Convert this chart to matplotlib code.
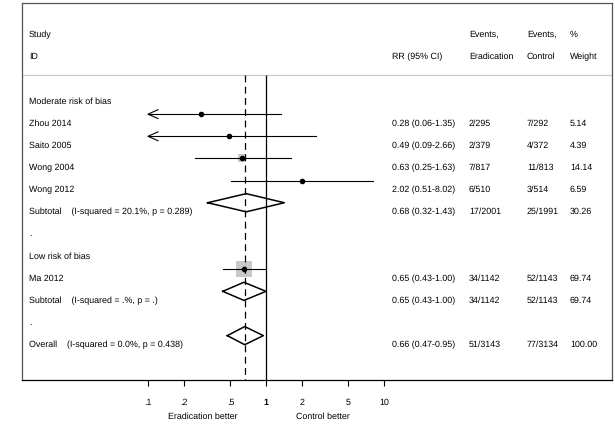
import numpy as np
import matplotlib
matplotlib.use("Agg")
import matplotlib.pyplot as plt
from matplotlib.ticker import FixedLocator, NullLocator

plt.rcParams['font.family'] = ['Liberation Sans', 'DejaVu Sans']
plt.rcParams['text.hinting'] = 'no_hinting'

# study level data
studies = ["Zhou 2014", "Saito 2005", "Wong 2004", "Wong 2012", "Ma 2012"]
study_rows = [1, 2, 3, 4, 8]
rr = [0.28, 0.49, 0.63, 2.02, 0.65]
ci_lo = [0.06, 0.09, 0.25, 0.51, 0.43]
ci_hi = [1.35, 2.66, 1.63, 8.02, 1.00]
ev_erad = ["2/295", "2/379", "7/817", "6/510", "34/1142"]
ev_ctrl = ["7/292", "4/372", "11/813", "3/514", "52/1143"]
weight = [5.14, 4.39, 14.14, 6.59, 69.74]

# pooled estimates
pool_labels = ["Subtotal    (I-squared = 20.1%, p = 0.289)",
               "Subtotal    (I-squared = .%, p = .)",
               "Overall    (I-squared = 0.0%, p = 0.438)"]
pool_rows = [5, 9, 11]
pool_rr = [0.68, 0.65, 0.66]
pool_lo = [0.32, 0.43, 0.47]
pool_hi = [1.43, 1.00, 0.95]
pool_erad = ["17/2001", "34/1142", "51/3143"]
pool_ctrl = ["25/1991", "52/1143", "77/3134"]
pool_weight = [30.26, 69.74, 100.00]

group_labels = ["Moderate risk of bias", ".", "Low risk of bias", "."]
group_rows = [0, 6, 7, 10]

tick_vals = [0.1, 0.2, 0.5, 1, 2, 5, 10]
tick_labels = [".1", ".2", ".5", "1", "2", "5", "10"]

W, H = 615, 425
fig = plt.figure(figsize=(W / 100, H / 100), dpi=100)
ax = fig.add_axes([22 / W, 1 - 380 / H, 590 / W, 376.7 / H])

ax.set_xscale('log')
ax.set_xlim(10 ** -2.0678, 10 ** 2.9322)
ax.set_ylim(12.61, -4.397)

fs = 6.4
mark_off = -0.393   # marks sit a bit above the text row
txt_off = 0.13      # baseline below row centre
clip_lo = 0.1
col_x = [0.0119, 0.627, 0.7576, 0.856, 0.9288]
tr = ax.get_yaxis_transform()

# header
ax.text(col_x[0], -3 + txt_off, "Study", transform=tr, fontsize=fs, va='baseline')
ax.text(col_x[0], -2 + txt_off, "ID", transform=tr, fontsize=fs, va='baseline')
ax.text(col_x[1], -2 + txt_off, "RR (95% CI)", transform=tr, fontsize=fs, va='baseline')
ax.text(col_x[2], -3 + txt_off, "Events,", transform=tr, fontsize=fs, va='baseline')
ax.text(col_x[2], -2 + txt_off, "Eradication", transform=tr, fontsize=fs, va='baseline')
ax.text(col_x[3], -3 + txt_off, "Events,", transform=tr, fontsize=fs, va='baseline')
ax.text(col_x[3], -2 + txt_off, "Control", transform=tr, fontsize=fs, va='baseline')
ax.text(col_x[4], -3 + txt_off, "%", transform=tr, fontsize=fs, va='baseline')
ax.text(col_x[4], -2 + txt_off, "Weight", transform=tr, fontsize=fs, va='baseline')
ax.axhline(-1.15, color='#c8c8c8', lw=0.8)

for lab, r in zip(group_labels, group_rows):
    ax.text(col_x[0], r + txt_off, lab, transform=tr, fontsize=fs, va='baseline')

# reference lines
ax.vlines(1, -1.15, 12.61, color='black', lw=0.9, zorder=3)
ax.vlines(pool_rr[-1], -1.15, 12.61, color='black', lw=0.9,
          linestyles=(0, (5.5, 3.5)), zorder=4)

# studies
for i in range(len(studies)):
    y = study_rows[i] + mark_off
    lo = max(ci_lo[i], clip_lo)
    side = 11.5 * np.sqrt(weight[i] / 69.74)
    ax.scatter(rr[i], y, s=side ** 2, marker='s', color='#c8c8c8', lw=0, zorder=2)
    ax.plot([lo, ci_hi[i]], [y, y], color='black', lw=0.8, zorder=3)
    ax.plot(rr[i], y, 'o', color='black', ms=3, zorder=5)
    if ci_lo[i] < clip_lo:
        ax.plot([clip_lo * 1.215, clip_lo, clip_lo * 1.215], [y - 0.2, y, y + 0.2],
                color='black', lw=0.8, zorder=3)
    r = study_rows[i] + txt_off
    ax.text(col_x[0], r, studies[i], transform=tr, fontsize=fs, va='baseline')
    ax.text(col_x[1], r, f"{rr[i]:.2f} ({ci_lo[i]:.2f}-{ci_hi[i]:.2f})",
            transform=tr, fontsize=fs, va='baseline')
    ax.text(col_x[2], r, ev_erad[i], transform=tr, fontsize=fs, va='baseline')
    ax.text(col_x[3], r, ev_ctrl[i], transform=tr, fontsize=fs, va='baseline')
    ax.text(col_x[4], r, f"{weight[i]:.2f}", transform=tr, fontsize=fs, va='baseline')

# pooled diamonds
for i in range(len(pool_labels)):
    y = pool_rows[i] + mark_off
    ax.plot([pool_lo[i], pool_rr[i], pool_hi[i], pool_rr[i], pool_lo[i]],
            [y, y - 0.41, y, y + 0.41, y], color='black', lw=1.1, zorder=3)
    r = pool_rows[i] + txt_off
    ax.text(col_x[0], r, pool_labels[i], transform=tr, fontsize=fs, va='baseline')
    ax.text(col_x[1], r, f"{pool_rr[i]:.2f} ({pool_lo[i]:.2f}-{pool_hi[i]:.2f})",
            transform=tr, fontsize=fs, va='baseline')
    ax.text(col_x[2], r, pool_erad[i], transform=tr, fontsize=fs, va='baseline')
    ax.text(col_x[3], r, pool_ctrl[i], transform=tr, fontsize=fs, va='baseline')
    ax.text(col_x[4], r, f"{pool_weight[i]:.2f}", transform=tr, fontsize=fs, va='baseline')

# axis
ax.xaxis.set_major_locator(FixedLocator(tick_vals))
ax.xaxis.set_minor_locator(NullLocator())
ax.set_xticklabels(tick_labels, fontsize=fs)
for lab in ax.get_xticklabels():
    if lab.get_text() == "1":
        lab.set_fontweight('bold')
ax.tick_params(axis='x', length=4, width=0.8, pad=9.5)
ax.set_yticks([])
for side in ['left', 'top', 'right']:
    ax.spines[side].set_color('#555555')
    ax.spines[side].set_linewidth(0.9)
ax.spines['bottom'].set_linewidth(0.9)

ax.text(0.29, 14.37, "Eradication better", fontsize=fs, ha='center', va='baseline', clip_on=False)
ax.text(3.02, 14.37, "Control better", fontsize=fs, ha='center', va='baseline', clip_on=False)

fig.savefig("out.png", dpi=100)
